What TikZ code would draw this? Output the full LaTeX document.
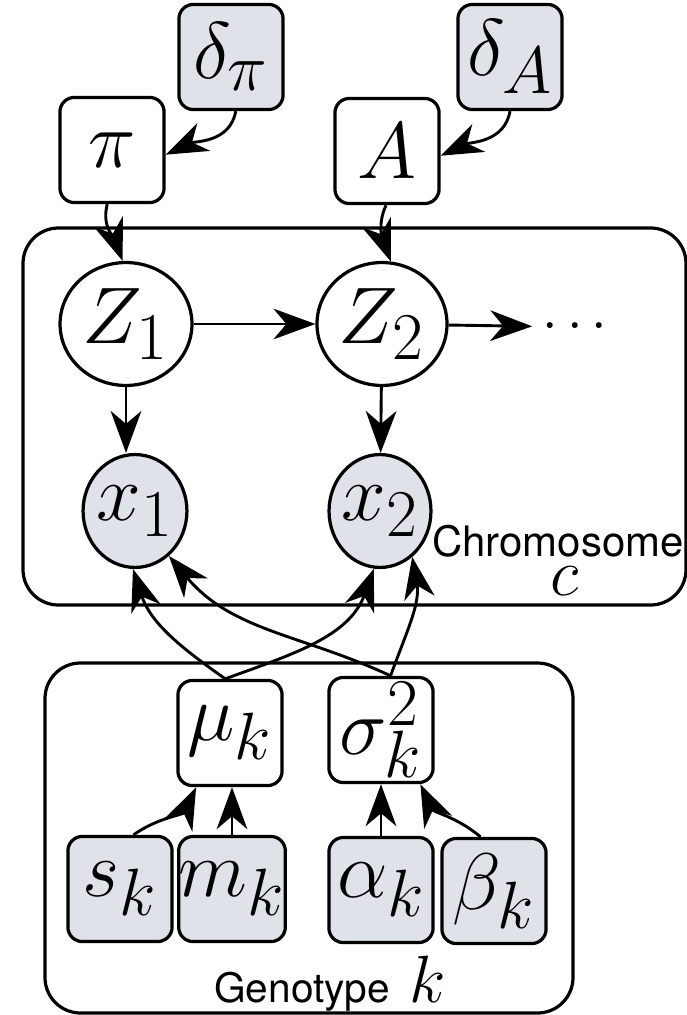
\documentclass[tikz,border=0pt]{standalone}
\usepackage{fontspec}
\setsansfont{TeX Gyre Heros}
\usetikzlibrary{arrows.meta,positioning,shapes.geometric}
\definecolor{obsfill}{RGB}{224,226,234}
\newcommand{\ctr}[1]{\makebox[0pt]{$#1$}}

\begin{document}
\begin{tikzpicture}[x=0.31pt, y=0.31pt,
		box/.style={draw, rounded corners=4.5pt, line width=1pt, inner sep=0pt,
			minimum width=32.3pt, minimum height=32.6pt, font=\Huge},
		obs/.style={fill=obsfill},
		var/.style={draw, ellipse, fill=white, line width=1pt, inner sep=0pt, font=\Huge},
		plate/.style={draw, line width=1pt, rounded corners=11pt},
		arr/.style={line width=0.9pt, -{Stealth[length=13pt, width=9.5pt, inset=4pt]}},
		lab/.style={font=\sffamily\fontsize{13}{15}\selectfont, anchor=base}]
		\useasboundingbox (0,0) rectangle (687,-1015);
		% plates
		\draw[plate] (23,-228) rectangle (686,-605);
		\draw[plate] (45,-663) rectangle (573,-1013);
		\node[lab] (chrom) at (558,-556) {Chromosome};
		\node[font=\huge, anchor=base] (clab) at (565,-595) {$c$};
		\node[lab, font=\sffamily\fontsize{12.6}{15}\selectfont] (geno) at (330,-1002) {Genotype\hspace{6pt}\huge$k$};
		\begin{scope}[every node/.style={box, obs}]
			\node (dpi) at (231,-57) {$\delta_\pi$};
			\node (dA) at (510,-57) {$\delta_A$};
			\node (sk) at (120,-889) {$s_k$};
			\node (mk) at (232,-889) {$m_k$};
			\node (ak) at (381,-890) {$\alpha_k$};
			\node (bk) at (494,-891) {$\beta_k$};
		\end{scope}
		\begin{scope}[every node/.style={box}]
			\node (pi) at (112,-150) {$\pi$};
			\node (A) at (387,-151) {$A$};
			\node (mu) at (230,-733) {$\mu_k$};
			\node (sig) at (381,-730) {$\sigma_k^2$};
		\end{scope}
		\begin{scope}[every node/.style={var}]
			\node[minimum width=40.9pt, minimum height=38.1pt] (Z1) at (126,-324) {\ctr{Z_1}};
			\node[minimum width=40.3pt, minimum height=38.1pt] (Z2) at (382,-324) {\ctr{Z_2}};
			\node[obs, minimum width=32.2pt, minimum height=35pt] (x1) at (135,-511) {\ctr{x_1}};
			\node[obs, minimum width=31.6pt, minimum height=35pt] (x2) at (380,-511) {\ctr{x_2}};
		\end{scope}
		\node[font=\LARGE, inner sep=3pt] (dots) at (575,-327) {$\cdots$};
		\begin{scope}[every path/.style={arr}]
			\path (dpi.-85) edge[out=-100, in=25] (pi.-5);
			\path (dA.south) edge[out=-100, in=25] (A.-5);
			\path (pi.-95) edge[out=-105, in=110] (Z1.93);
			\path (A.-91) edge[out=-115, in=110] (Z2.82);
			\path (Z1) edge (Z2);
			\path (Z2) edge (dots);
			\path (Z1.south) edge (Z1.south |- x1.north);
			\path (Z2) edge (x2);
			\path (mu.95) edge[out=145, in=-72] (x1.-92);
			\path (mu.95) edge[out=20, in=-110] (x2.-96);
			\path (sig.80) edge[out=155, in=-50] (x1.-53);
			\path (sig.80) edge[out=70, in=-80] (x2.-55);
			\path (sk.76) edge[out=35, in=-115] (mu.-122);
			\path (mk.north) edge (mk.north |- mu.south);
			\path (ak.north) edge (ak.north |- sig.south);
			\path (bk.104) edge[out=140, in=-65] (sig.-54);
		\end{scope}
	\end{tikzpicture}
\end{document}
